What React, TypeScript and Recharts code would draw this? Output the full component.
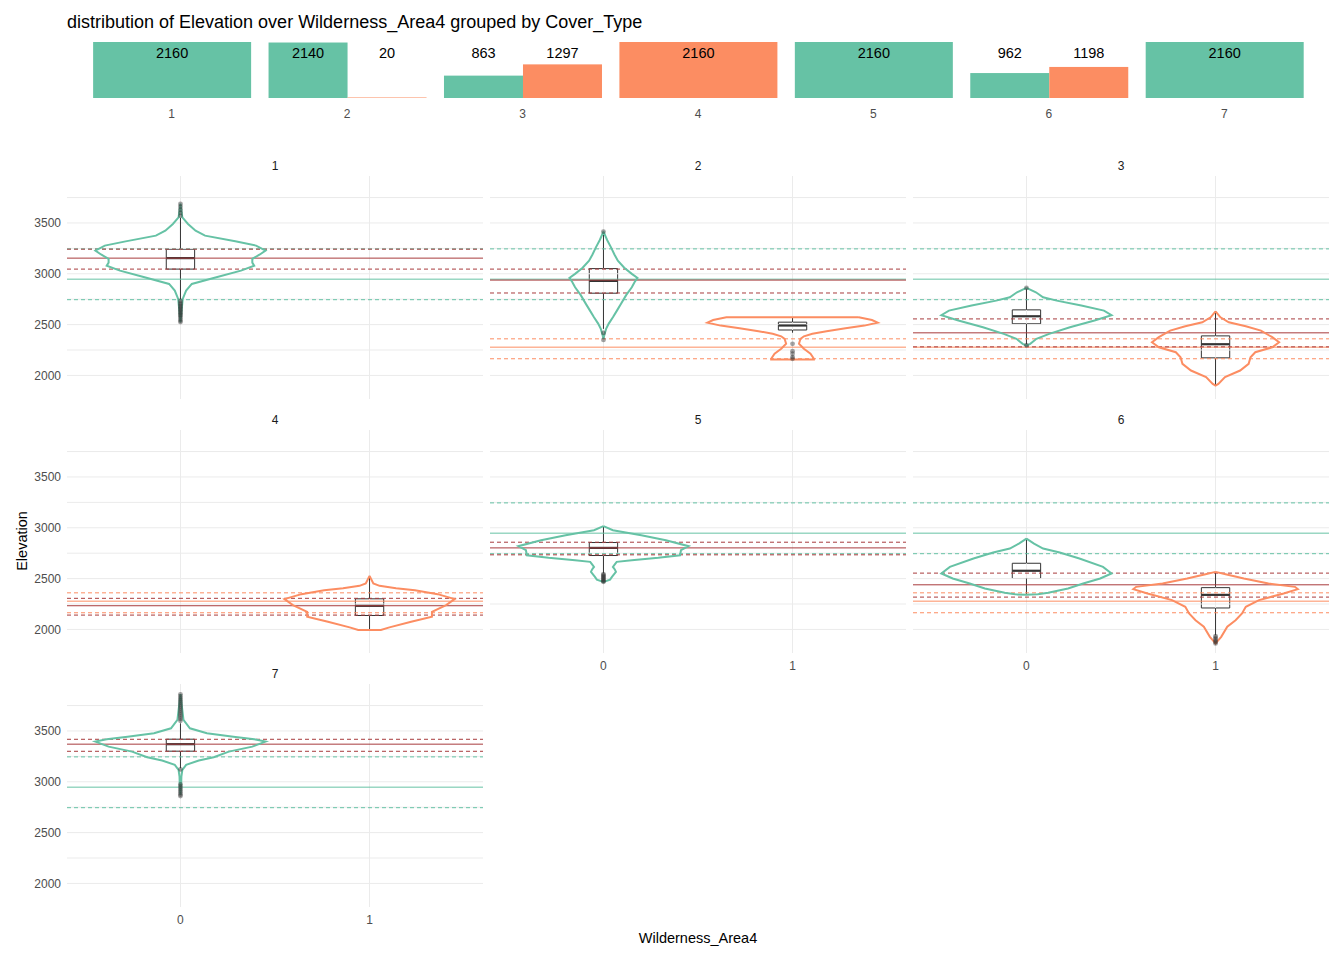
import React from 'react';
import {
  BarChart, Bar, XAxis, YAxis, ComposedChart, Scatter,
  ReferenceLine, ReferenceArea,
} from 'recharts';

const GREEN = '#66c2a5';
const ORANGE = '#fc8d62';
const RED = '#a83b3d';
const BOX = '#333333';
const GRID = '#ebebeb';
const FONT = '"Liberation Sans", Arial, sans-serif';

// top strip: counts per Cover_Type and Wilderness_Area4
const coverTypes = ['1', '2', '3', '4', '5', '6', '7'];
const countArea0 = [2160, 2140, 863, null, 2160, 962, 2160];
const countArea1 = [null, 20, 1297, 2160, null, 1198, null];

const elevTicks = [2000, 2250, 2500, 2750, 3000, 3250, 3500, 3750];
const elevLabels = [2000, 2500, 3000, 3500];
const areaTicks = [0, 1];

// overall [q1, median, q3] per Wilderness_Area4 level
const globalArea0 = [2745, 2947, 3245];
const globalArea1 = [2164, 2278, 2360];

// [q1, median, q3] per Cover_Type
const coverQuartiles = [
  [3046, 3154, 3242],
  [2811, 2938, 3046],
  [2281, 2419, 2556],
  [2141, 2233, 2306],
  [2734, 2802, 2858],
  [2318, 2439, 2554],
  [3300, 3370, 3418],
];

// violin outlines: elevation (top to bottom) and half width in x units
const p1a0Elev = [3690, 3555, 3490, 3424, 3375, 3319, 3277, 3228, 3190, 3146, 3110, 3080, 3031, 2965, 2900, 2834, 2753, 2638, 2525];
const p1a0Half = [0, 0.01, 0.04, 0.08, 0.13, 0.29, 0.4, 0.45, 0.42, 0.38, 0.38, 0.39, 0.32, 0.19, 0.06, 0.03, 0.012, 0.006, 0];
const p2a0Elev = [3414, 3330, 3260, 3190, 3129, 3060, 2999, 2959, 2920, 2867, 2790, 2704, 2640, 2572, 2510, 2458, 2400, 2360];
const p2a0Half = [0, 0.02, 0.04, 0.058, 0.076, 0.11, 0.15, 0.18, 0.165, 0.15, 0.12, 0.093, 0.072, 0.05, 0.028, 0.014, 0.005, 0];
const p2a1Elev = [2572, 2545, 2519, 2490, 2464, 2435, 2409, 2385, 2360, 2311, 2262, 2213, 2164, 2156];
const p2a1Half = [0.35, 0.42, 0.45, 0.38, 0.28, 0.18, 0.105, 0.06, 0.042, 0.034, 0.06, 0.095, 0.113, 0.113];
const p3a0Elev = [2861, 2818, 2769, 2736, 2687, 2638, 2592, 2540, 2474, 2409, 2360, 2311, 2294];
const p3a0Half = [0, 0.05, 0.088, 0.16, 0.29, 0.41, 0.45, 0.36, 0.23, 0.12, 0.053, 0.02, 0];
const p3a1Elev = [2631, 2572, 2523, 2484, 2441, 2376, 2327, 2277, 2228, 2179, 2114, 2048, 1983, 1917, 1900];
const p3a1Half = [0, 0.026, 0.07, 0.16, 0.24, 0.3, 0.336, 0.3, 0.21, 0.185, 0.175, 0.13, 0.05, 0.015, 0];
const p4a1Elev = [2527, 2452, 2429, 2405, 2386, 2347, 2298, 2239, 2173, 2124, 2075, 2020, 1995];
const p4a1Half = [0, 0.02, 0.053, 0.14, 0.24, 0.36, 0.45, 0.405, 0.33, 0.33, 0.22, 0.105, 0.06];
const p5a0Elev = [3016, 2976, 2927, 2878, 2819, 2779, 2730, 2704, 2681, 2665, 2640, 2615, 2590, 2566, 2517, 2490, 2468];
const p5a0Half = [0, 0.05, 0.2, 0.33, 0.45, 0.41, 0.405, 0.29, 0.15, 0.07, 0.06, 0.05, 0.06, 0.066, 0.045, 0.035, 0];
const p6a0Elev = [2894, 2845, 2796, 2757, 2698, 2615, 2550, 2501, 2452, 2403, 2360, 2345, 2340];
const p6a0Half = [0, 0.04, 0.088, 0.176, 0.28, 0.405, 0.45, 0.39, 0.3, 0.22, 0.115, 0.06, 0];
const p6a1Elev = [2566, 2543, 2501, 2452, 2419, 2396, 2354, 2288, 2222, 2157, 2091, 2026, 1927, 1862];
const p6a1Half = [0, 0.053, 0.15, 0.28, 0.42, 0.435, 0.36, 0.23, 0.16, 0.14, 0.106, 0.062, 0.03, 0];
const p7a0Elev = [3863, 3608, 3526, 3477, 3444, 3419, 3395, 3346, 3297, 3242, 3209, 3167, 3118, 3052, 2987, 2873];
const p7a0Half = [0, 0.016, 0.05, 0.14, 0.28, 0.39, 0.45, 0.38, 0.256, 0.176, 0.097, 0.03, 0.01, 0.005, 0.004, 0];

// boxplots: [lower whisker, q1, median, q3, upper whisker] and outliers
const p1a0Box = [2743, 3046, 3154, 3242, 3549];
const p1a0Out = [3687, 3660, 3630, 3600, 3570, 2735, 2715, 2700, 2685, 2670, 2655, 2640, 2625, 2610, 2595, 2580, 2560, 2540, 2525];
const p2a0Box = [2458, 2809, 2930, 3051, 3405];
const p2a0Out = [3414, 2418, 2349];
const p2a1Box = [2420, 2447, 2491, 2524, 2572];
const p2a1Out = [2311, 2239, 2213, 2180, 2164];
const p3a0Box = [2305, 2508, 2582, 2645, 2848];
const p3a0Out = [2861, 2298];
const p3a1Box = [1900, 2173, 2307, 2389, 2631];
const p3a1Out: number[] = [];
const p4a1Box = [1993, 2137, 2232, 2301, 2527];
const p4a1Out: number[] = [];
const p5a0Box = [2553, 2727, 2802, 2855, 3016];
const p5a0Out = [2545, 2535, 2525, 2515, 2505, 2495, 2485, 2475, 2468];
const p6a0Box = [2340, 2501, 2577, 2651, 2894];
const p6a0Out: number[] = [];
const p6a1Box = [1944, 2211, 2340, 2411, 2566];
const p6a1Out = [1935, 1920, 1905, 1890, 1875, 1862];
const p7a0Box = [3134, 3301, 3370, 3419, 3575];
const p7a0Out = [3600, 3620, 3640, 3660, 3680, 3700, 3720, 3740, 3760, 3780, 3800, 3820, 3840, 3860, 3122, 2975, 2955, 2935, 2915, 2895, 2875, 2860];

type Group = { area: number; elev: number[]; half: number[]; box: number[]; out: number[] };

const panelGroups: Group[][] = [
  [{ area: 0, elev: p1a0Elev, half: p1a0Half, box: p1a0Box, out: p1a0Out }],
  [
    { area: 0, elev: p2a0Elev, half: p2a0Half, box: p2a0Box, out: p2a0Out },
    { area: 1, elev: p2a1Elev, half: p2a1Half, box: p2a1Box, out: p2a1Out },
  ],
  [
    { area: 0, elev: p3a0Elev, half: p3a0Half, box: p3a0Box, out: p3a0Out },
    { area: 1, elev: p3a1Elev, half: p3a1Half, box: p3a1Box, out: p3a1Out },
  ],
  [{ area: 1, elev: p4a1Elev, half: p4a1Half, box: p4a1Box, out: p4a1Out }],
  [{ area: 0, elev: p5a0Elev, half: p5a0Half, box: p5a0Box, out: p5a0Out }],
  [
    { area: 0, elev: p6a0Elev, half: p6a0Half, box: p6a0Box, out: p6a0Out },
    { area: 1, elev: p6a1Elev, half: p6a1Half, box: p6a1Box, out: p6a1Out },
  ],
  [{ area: 0, elev: p7a0Elev, half: p7a0Half, box: p7a0Box, out: p7a0Out }],
];

const COL_X = [67, 490, 913];
const ROW_Y = [176, 430, 684];
const PW = 416;
const PH = 223;
const Y_AXIS_W = 50;
const X_AXIS_H = 30;
const BOX_HALF = 0.075;

const outline = (c: number, elev: number[], half: number[]) => {
  const right = elev.map((e, i) => ({ x: c + half[i], y: e }));
  const left = elev.map((e, i) => ({ x: c - half[i], y: e })).reverse();
  return [...right, ...left, right[0]];
};

const noShape = () => <g />;
const dot = (p: any) => (
  <circle cx={p.cx} cy={p.cy} r={2.4} fill="#333333" fillOpacity={0.45} />
);

const Panel = ({ index }: { index: number }) => {
  const col = index % 3;
  const row = Math.floor(index / 3);
  const showY = col === 0;
  const showX = index >= 4;
  const groups = panelGroups[index];
  const [q1, med, q3] = coverQuartiles[index];
  const hasArea = (a: number) => groups.some((g) => g.area === a);
  const tickStyle = { fill: '#4d4d4d', fontSize: 12, fontFamily: FONT };

  return (
    <>
      <div
        style={{
          position: 'absolute', left: COL_X[col], top: ROW_Y[row] - 17, width: PW,
          textAlign: 'center', fontSize: 12, lineHeight: '14px', color: '#1a1a1a',
        }}
      >
        {coverTypes[index]}
      </div>
      <div style={{ position: 'absolute', left: COL_X[col] - (showY ? Y_AXIS_W : 0), top: ROW_Y[row] }}>
        <ComposedChart
          width={PW + (showY ? Y_AXIS_W : 0)}
          height={PH + (showX ? X_AXIS_H : 0)}
          margin={{ top: 0, right: 0, bottom: 0, left: 0 }}
        >
          <XAxis
            type="number" dataKey="x" domain={[-0.6, 1.6]} ticks={areaTicks}
            allowDataOverflow hide={!showX} height={X_AXIS_H}
            tickLine={false} axisLine={false} tick={tickStyle}
          />
          <YAxis
            type="number" dataKey="y" domain={[1768, 3962]} ticks={elevTicks}
            allowDataOverflow hide={!showY} width={Y_AXIS_W} tickSize={4}
            tickFormatter={(v: number) => (elevLabels.includes(v) ? String(v) : '')}
            tickLine={false} axisLine={false} tick={tickStyle}
          />
          {elevTicks.map((v) => (
            <ReferenceLine key={'gy' + v} y={v} stroke={GRID} strokeWidth={1} />
          ))}
          {areaTicks.map((v) => (
            <ReferenceLine key={'gx' + v} x={v} stroke={GRID} strokeWidth={1} />
          ))}
          {groups.map((g) => (
            <Scatter
              key={'v' + g.area}
              data={outline(g.area, g.elev, g.half)}
              line={{ stroke: g.area === 0 ? GREEN : ORANGE, strokeWidth: 2 }}
              lineJointType="linear"
              shape={noShape}
              isAnimationActive={false}
            />
          ))}
          {groups.map((g) => (
            <ReferenceArea
              key={'b' + g.area}
              x1={g.area - BOX_HALF} x2={g.area + BOX_HALF} y1={g.box[1]} y2={g.box[3]}
              fill="#ffffff" fillOpacity={0} stroke={BOX} strokeWidth={1}
            />
          ))}
          {groups.map((g) => (
            <ReferenceLine
              key={'wh' + g.area}
              segment={[{ x: g.area, y: g.box[3] }, { x: g.area, y: g.box[4] }]}
              stroke={BOX} strokeWidth={1}
            />
          ))}
          {groups.map((g) => (
            <ReferenceLine
              key={'wl' + g.area}
              segment={[{ x: g.area, y: g.box[0] }, { x: g.area, y: g.box[1] }]}
              stroke={BOX} strokeWidth={1}
            />
          ))}
          {groups.map((g) => (
            <ReferenceLine
              key={'m' + g.area}
              segment={[{ x: g.area - BOX_HALF, y: g.box[2] }, { x: g.area + BOX_HALF, y: g.box[2] }]}
              stroke={BOX} strokeWidth={2.2}
            />
          ))}
          {groups.map((g) => (
            <Scatter
              key={'o' + g.area}
              data={g.out.map((y) => ({ x: g.area, y }))}
              shape={dot}
              isAnimationActive={false}
            />
          ))}
          {hasArea(0) && <ReferenceLine y={globalArea0[0]} stroke={GREEN} strokeDasharray="4 3" />}
          {hasArea(0) && <ReferenceLine y={globalArea0[1]} stroke={GREEN} />}
          {hasArea(0) && <ReferenceLine y={globalArea0[2]} stroke={GREEN} strokeDasharray="4 3" />}
          {hasArea(1) && <ReferenceLine y={globalArea1[0]} stroke={ORANGE} strokeDasharray="4 3" />}
          {hasArea(1) && <ReferenceLine y={globalArea1[1]} stroke={ORANGE} />}
          {hasArea(1) && <ReferenceLine y={globalArea1[2]} stroke={ORANGE} strokeDasharray="4 3" />}
          <ReferenceLine y={q1} stroke={RED} strokeDasharray="4 3" />
          <ReferenceLine y={med} stroke={RED} />
          <ReferenceLine y={q3} stroke={RED} strokeDasharray="4 3" />
        </ComposedChart>
      </div>
    </>
  );
};

const barData = coverTypes.map((c, i) => ({ cover: c, a0: countArea0[i], a1: countArea1[i] }));

const makeBarShape = (key: 'a0' | 'a1') => (p: any) => {
  const other = key === 'a0' ? p.payload.a1 : p.payload.a0;
  const single = other == null;
  const x = single && key === 'a1' ? p.x - p.width : p.x;
  const w = single ? p.width * 2 : p.width;
  const topY = p.background && p.background.y != null ? p.background.y : 0;
  return (
    <g>
      <rect x={x} y={p.y} width={w} height={Math.max(p.height, 0)} fill={p.fill} />
      <text
        x={x + w / 2} y={topY + 15.5} textAnchor="middle"
        fontSize={14.5} fontFamily={FONT} fill="#000000"
      >
        {p.value}
      </text>
    </g>
  );
};

const CountStrip = () => (
  <div style={{ position: 'absolute', left: 84, top: 42 }}>
    <BarChart
      width={1228} height={86} data={barData}
      margin={{ top: 0, right: 0, bottom: 0, left: 0 }}
      barCategoryGap="5.2%" barGap={0}
    >
      <XAxis
        dataKey="cover" height={30} tickLine={false} axisLine={false} dy={3}
        tick={{ fill: '#4d4d4d', fontSize: 12, fontFamily: FONT }}
      />
      <YAxis hide domain={[0, 2160]} allowDataOverflow />
      <Bar dataKey="a0" fill={GREEN} shape={makeBarShape('a0')} isAnimationActive={false} />
      <Bar dataKey="a1" fill={ORANGE} shape={makeBarShape('a1')} isAnimationActive={false} />
    </BarChart>
  </div>
);

export default function App() {
  return (
    <div
      style={{
        position: 'absolute', left: 0, top: 0, width: 1344, height: 960,
        background: '#ffffff', fontFamily: FONT, overflow: 'hidden',
      }}
    >
      <div style={{ position: 'absolute', left: 67, top: 12, fontSize: 18, lineHeight: '21px', color: '#000' }}>
        distribution of Elevation over Wilderness_Area4 grouped by Cover_Type
      </div>
      <CountStrip />
      {panelGroups.map((_, i) => (
        <Panel key={i} index={i} />
      ))}
      <div
        style={{
          position: 'absolute', left: 22, top: 541, fontSize: 14.5, color: '#000',
          transform: 'translate(-50%, -50%) rotate(-90deg)', whiteSpace: 'nowrap',
        }}
      >
        Elevation
      </div>
      <div
        style={{
          position: 'absolute', left: 698, top: 938, fontSize: 14.5, color: '#000',
          transform: 'translate(-50%, -50%)', whiteSpace: 'nowrap',
        }}
      >
        Wilderness_Area4
      </div>
    </div>
  );
}
